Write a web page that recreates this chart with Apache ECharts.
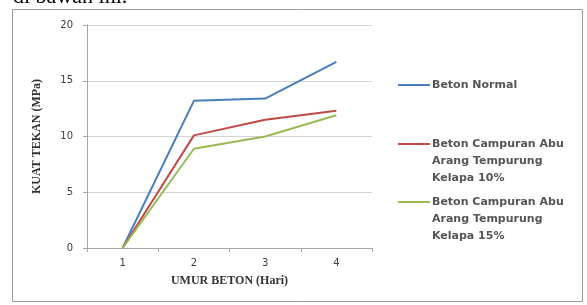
<!DOCTYPE html>
<html>
<head>
<meta charset="utf-8">
<script src="https://cdn.jsdelivr.net/npm/echarts@6/dist/echarts.min.js"></script>
<style>
  html, body { margin: 0; padding: 0; background: #fff; }
  #chart { width: 587px; height: 305px; }
</style>
</head>
<body>
<div id="chart"></div>
<script>
var days = ['1', '2', '3', '4'];
var normal = [0, 13.2, 13.4, 16.7];
var abu10 = [0, 10.1, 11.5, 12.3];
var abu15 = [0, 8.9, 10.0, 11.9];
var yTicks = [0, 5, 10, 15, 20];

var names = ['Beton Normal', 'Beton Campuran Abu Arang Tempurung Kelapa 10%', 'Beton Campuran Abu Arang Tempurung Kelapa 15%'];
var colors = ['#4a7ebb', '#be4b48', '#98b954'];
// y centre of each legend line
var legendY = [85, 144, 202];

function legendLabel(name) {
  if (name == names[0]) return name;
  // two empty lines in front keep the icon level with the first line
  return '\n\n' + name.replace('Abu ', 'Abu\n').replace('Tempurung ', 'Tempurung\n');
}

var chart = echarts.init(document.getElementById('chart'));
chart.setOption({
  animation: false,
  graphic: [{
    type: 'rect',
    shape: { x: 12.5, y: 9.5, width: 570, height: 292 },
    style: { fill: '#fff', stroke: '#9a9a9a', lineWidth: 1 },
    z: -10
  }, {
    type: 'text',
    left: 13,
    top: -14,
    style: {
      text: 'di bawah ini.',
      font: '22px "Liberation Serif"',
      fill: '#000'
    }
  }],
  legend: names.map(function (n, i) {
    var lines = i == 0 ? 1 : 5;
    return {
      data: [n],
      left: 393,
      top: legendY[i] - lines * 17 / 2 - 5,
      icon: 'rect',
      itemWidth: 32,
      itemHeight: 2,
      itemGap: 0,
      selectedMode: false,
      formatter: legendLabel,
      textStyle: {
        fontFamily: 'DejaVu Sans',
        fontSize: 11,
        fontWeight: 'bold',
        color: '#555',
        lineHeight: 17,
        padding: [0, 0, 0, -3]
      }
    };
  }),
  grid: { left: 87, top: 25, width: 285, height: 223 },
  xAxis: {
    type: 'category',
    data: days,
    name: 'UMUR BETON (Hari)',
    nameLocation: 'middle',
    nameGap: 27,
    nameTextStyle: { fontFamily: 'Liberation Serif', fontWeight: 'bold', fontSize: 12, color: '#333' },
    axisLine: { lineStyle: { color: '#a6a6a6' } },
    axisTick: { show: true, interval: 0, length: 4, lineStyle: { color: '#a6a6a6' } },
    axisLabel: { fontFamily: 'DejaVu Sans', fontSize: 10, color: '#404040', margin: 10 },
    splitLine: { show: false }
  },
  yAxis: {
    type: 'value',
    min: yTicks[0],
    max: yTicks[yTicks.length - 1],
    interval: 5,
    name: 'KUAT TEKAN (MPa)',
    nameLocation: 'middle',
    nameGap: 44,
    nameTextStyle: { fontFamily: 'Liberation Serif', fontWeight: 'bold', fontSize: 12, color: '#333' },
    axisLine: { show: true, lineStyle: { color: '#a6a6a6' } },
    axisTick: { show: true, length: 4, lineStyle: { color: '#a6a6a6' } },
    axisLabel: { fontFamily: 'DejaVu Sans', fontSize: 10, color: '#404040', margin: 14 },
    splitLine: { lineStyle: { color: '#d4d4d4' } }
  },
  series: [normal, abu10, abu15].map(function (d, i) {
    return {
      name: names[i],
      type: 'line',
      data: d,
      symbol: 'none',
      lineStyle: { width: 2, color: colors[i] },
      itemStyle: { color: colors[i] }
    };
  })
});
</script>
</body>
</html>
